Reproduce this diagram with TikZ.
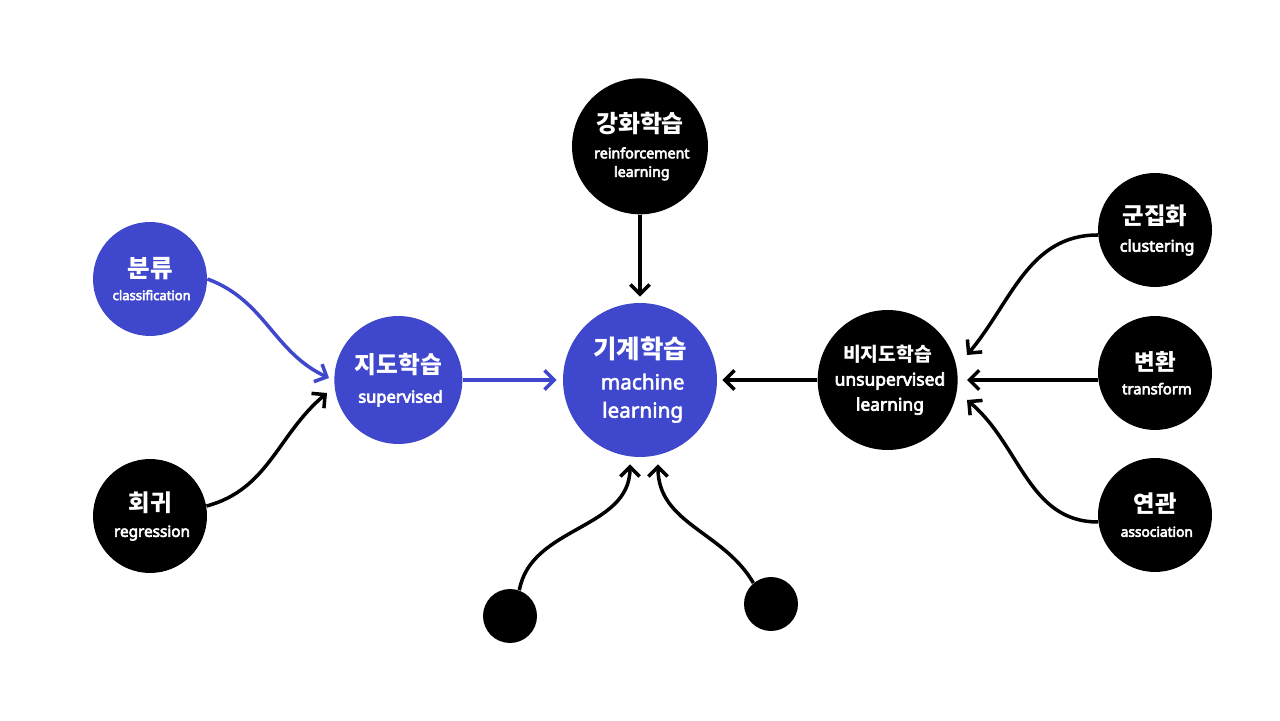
\documentclass[tikz,border=0pt]{standalone}
\usepackage{fontspec}
\setmainfont{Noto Sans CJK KR}
\newfontfamily\latinfont{Noto Sans}[FakeBold=4]
\newfontfamily\mlfont{Noto Sans}[FakeBold=2.5]
\usetikzlibrary{arrows.meta,positioning}
\definecolor{mlblue}{RGB}{63,72,204}
\newcommand{\fs}[1]{\fontsize{#1}{1.2\dimexpr #1\relax}\selectfont}

\begin{document}
\begin{tikzpicture}[
        x=0.02cm, y=0.02cm,
        node distance=2cm,
        topic/.style={circle, inner sep=0pt, align=center, text=white, font=\fs{8pt}},
        bluetopic/.style={topic, fill=mlblue},
        blacktopic/.style={topic, fill=black},
        leaf/.style={circle, fill=black, minimum size=1.08cm, inner sep=0pt},
        link/.style={line width=2pt, draw=black, -{Straight Barb[length=5.5pt,width=11pt]}},
        bluelink/.style={link, draw=mlblue}
    ]
        \useasboundingbox (0,0) rectangle (1280,720);

        % Centre and main branches
        \node (ml) [bluetopic, minimum size=3.08cm] at (640,340) {{\fs{14.5pt}\bfseries 기계학습}\\[6pt]{\mlfont\fs{11.8pt} machine}\\[6.5pt]{\mlfont\fs{11.8pt} learning}};
        \node (sup) [bluetopic, minimum size=2.56cm, left=2cm of ml] {{\fs{13.5pt}\bfseries 지도학습}\\[7pt]{\latinfont\fs{9.4pt} supervised}};
        \node (rl) [blacktopic, minimum size=2.72cm, above=1.76cm of ml] {{\fs{13.6pt}\bfseries 강화학습}\\[5pt]{\latinfont\fs{8.1pt} reinforcement}\\[1pt]{\latinfont\fs{8.1pt} learning}};
        \node (usup) [blacktopic, minimum size=2.8cm, right=2cm of ml] {{\fs{11pt}\bfseries 비지도학습}\\[4pt]{\latinfont\fs{9.9pt} unsupervised}\\[3.4pt]{\latinfont\fs{9.9pt} learning}};

        % Outer topics
        \node (cls) [bluetopic, minimum size=2.28cm] at (150,441) {{\fs{14pt}\bfseries 분류}\\[3pt]{\latinfont\fs{7.4pt} classification}};
        \node (reg) [blacktopic, minimum size=2.28cm] at (150,204) {{\fs{13.3pt}\bfseries 회귀}\\[5pt]{\latinfont\fs{8.7pt} regression}};
        \node (clu) [blacktopic, minimum size=2.28cm] at (1155,490) {{\fs{13.3pt}\bfseries 군집화}\\[6pt]{\latinfont\fs{9.1pt} clustering}};
        \node (trn) [blacktopic, minimum size=2.28cm] at (1155,347) {{\fs{12.8pt}\bfseries 변환}\\[3.8pt]{\latinfont\fs{8.4pt} transform}};
        \node (asc) [blacktopic, minimum size=2.28cm] at (1155,205) {{\fs{13.3pt}\bfseries 연관}\\[4pt]{\latinfont\fs{7.8pt} association}};

        % Unlabelled dots
        \node (dotl) [leaf] at (510,104) {};
        \node (dotr) [leaf] at (771,116) {};

        % Arrows into supervised
        \draw [bluelink] (cls.east) to[out=-20, in=155] ([xshift=-0.1cm, yshift=0.04cm]sup.west);
        \draw [link] (reg.10) to[out=15, in=-140] ([xshift=-0.14cm, yshift=-0.26cm]sup.west);
        \draw [bluelink, shorten >=0.12cm] (sup.east) -- (ml.west);

        % Arrows into machine learning
        \draw [link, shorten >=0.12cm] (rl.south) -- (ml.north);
        \draw [link, shorten >=0.1cm] (usup.west) -- (ml.east);
        \draw [link] (dotl.70) to[out=80, in=-90] ([xshift=-0.2cm, yshift=-0.14cm]ml.south);
        \draw [link] (dotr.130) to[out=120, in=-90] ([xshift=0.36cm, yshift=-0.14cm]ml.south);

        % Arrows into unsupervised
        \draw [link] (clu.185) to[out=180, in=50] ([xshift=0.18cm, yshift=0.5cm]usup.east);
        \draw [link, shorten >=0.18cm] (trn.west |- usup.east) -- (usup.east);
        \draw [link] (asc.187) to[out=180, in=-40] ([xshift=0.18cm, yshift=-0.4cm]usup.east);

    \end{tikzpicture}
\end{document}
